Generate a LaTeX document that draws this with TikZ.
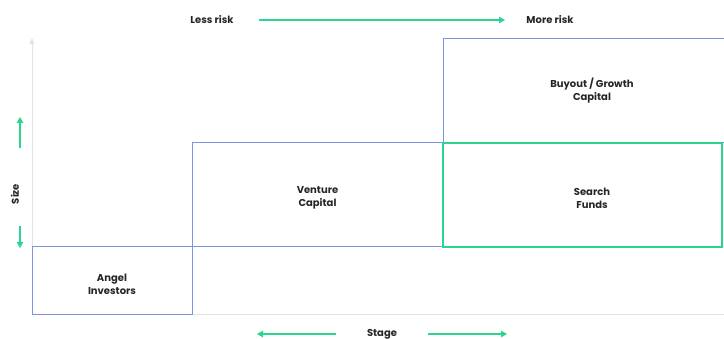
\documentclass[tikz,border=0pt]{standalone}
\usepackage{fontspec}
\setmainfont{Poppins}
\usetikzlibrary{arrows.meta}
\definecolor{boxblue}{HTML}{7A94E0}
\definecolor{mygreen}{HTML}{2BD48F}
\definecolor{axisgray}{HTML}{E3E3E3}
\tikzset{
  stagebox/.style={draw=boxblue, line width=1pt, inner sep=0pt},
  greenbox/.style={draw=mygreen, line width=2.4pt, inner sep=0pt},
  lbl/.style={font=\bfseries\fontsize{10}{13}\selectfont, align=center, text=black!85, inner sep=0pt},
  garrow/.style={draw=mygreen, line width=1.2pt, -{Triangle[length=6pt,width=6.5pt]}},
  axis/.style={draw=axisgray, line width=1pt}
}
\begin{document}
\begin{tikzpicture}[x=1pt,y=-1pt]
\useasboundingbox (0,0) rectangle (724,339);
\clip (0,0) rectangle (724,339);
% axes
\coordinate (o) at (32,315);
\coordinate (ytop) at (32,38);
\coordinate (xend) at (724,315);
\draw[axis, -{Triangle[length=6pt,width=5pt]}] (o) -- (ytop);
\draw[axis] (o) -- (xend);
% boxes
\node[stagebox, minimum width=160pt, minimum height=68pt] (angel) at (112,281) {};
\node[stagebox, minimum width=251pt, minimum height=104pt] (venture) at (317.5,195) {};
\node[stagebox, minimum width=298pt, minimum height=104pt] (buyout) at (592,91) {};
\node[greenbox, minimum width=279pt, minimum height=104pt] (search) at (582.5,195) {};
% labels
\node[lbl] (angelt) at (112,284) {Angel\\Investors};
\node[lbl] (venturet) at (317.5,198) {Venture\\Capital};
\node[lbl] (buyoutt) at (592,91) {Buyout / Growth\\Capital};
\node[lbl] (searcht) at (592,198.5) {Search\\Funds};
% risk
\node[lbl] (less) at (212,20) {Less risk};
\node[lbl] (more) at (550,20) {More risk};
\coordinate (r1) at (259,20);
\coordinate (r2) at (505,20);
\draw[garrow] (r1) -- (r2);
% size
\node[lbl, rotate=90] (size) at (15,194) {Size};
\coordinate (s1) at (20,148);
\coordinate (s2) at (20,117);
\coordinate (s3) at (20,226);
\coordinate (s4) at (20,248);
\draw[garrow] (s1) -- (s2);
\draw[garrow] (s3) -- (s4);
% stage
\node[lbl] (stage) at (382,334) {Stage};
\coordinate (t1) at (336,334);
\coordinate (t2) at (257,334);
\coordinate (t3) at (428,334);
\coordinate (t4) at (507,334);
\draw[garrow] (t1) -- (t2);
\draw[garrow] (t3) -- (t4);
\end{tikzpicture}
\end{document}
